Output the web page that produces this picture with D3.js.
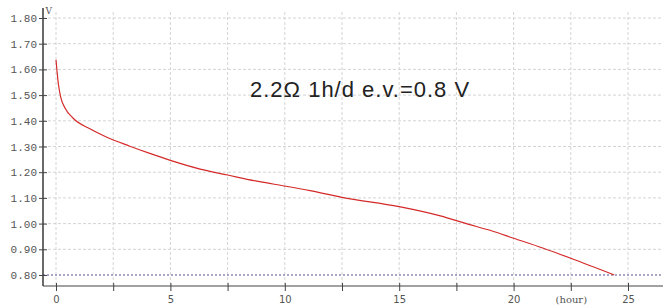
<!DOCTYPE html>
<html>
<head>
<meta charset="utf-8">
<script src="https://cdn.jsdelivr.net/npm/d3@7"></script>
<style>
  body { margin: 0; background: #fff; }
  svg { display: block; }
  .grid line { stroke: #d4d4d4; stroke-dasharray: 3 2; }
  .axis path, .axis line { stroke: #444; }
  .ytick text { font-family: "Liberation Mono", monospace; font-size: 11px; fill: #555; }
  .xtick text { font-family: "DejaVu Sans", sans-serif; font-size: 10px; fill: #555; }
</style>
</head>
<body>
<div id="chart"></div>
<script>
// discharge curve
const hours = [0, 0.1, 0.2, 0.4, 0.75, 1.5, 2.2, 3.2, 4.1, 5, 6.3, 7.5, 8.9, 10,
  11.1, 12.5, 15, 16.8, 18, 19, 20, 21.3, 22.5, 24.4];
const volts = [1.637, 1.546, 1.494, 1.449, 1.41, 1.368, 1.337, 1.302, 1.273, 1.246,
  1.212, 1.189, 1.163, 1.146, 1.128, 1.102, 1.066, 1.03, 0.998, 0.973, 0.943,
  0.904, 0.865, 0.80];
const yTicks = [0.8, 0.9, 1.0, 1.1, 1.2, 1.3, 1.4, 1.5, 1.6, 1.7, 1.8];
const xTicks = [0, 2.5, 5, 7.5, 10, 12.5, 15, 17.5, 20, 22.5, 25];
const xLabels = {0: '0', 5: '5', 10: '10', 15: '15', 20: '20', 22.5: '(hour)', 25: '25'};
const endVoltage = 0.8;
const title = '2.2\u03a9 1h/d e.v.=0.8 V';

const totalW = 663, totalH = 306;
const margin = {top: 18, right: 35, bottom: 31, left: 56};
const W = totalW - margin.left - margin.right;
const H = totalH - margin.top - margin.bottom;

const svg = d3.select('#chart').append('svg')
  .attr('width', totalW)
  .attr('height', totalH);
const g = svg.append('g')
  .attr('transform', `translate(${margin.left} ${margin.top})`);

const x = d3.scaleLinear().domain([0, 25]).range([0, W]);
const y = d3.scaleLinear().domain([0.8, 1.8]).range([H, 0]);

const axisX = -13;          // y axis sits a bit left of t=0
const axisY = H + 11;       // x axis sits a bit below 0.80
const rightEdge = totalW - margin.left;

// grid
const grid = g.append('g').classed('grid', true);
grid.selectAll('line.h')
  .data(yTicks.filter(d => d > endVoltage))
  .join('line')
  .attr('x1', axisX).attr('x2', rightEdge)
  .attr('y1', d => y(d)).attr('y2', d => y(d));
grid.selectAll('line.v')
  .data(xTicks)
  .join('line')
  .attr('x1', d => x(d)).attr('x2', d => x(d))
  .attr('y1', -6).attr('y2', axisY);

// end-of-discharge line
g.append('line')
  .attr('x1', axisX).attr('x2', rightEdge)
  .attr('y1', y(endVoltage)).attr('y2', y(endVoltage))
  .attr('stroke', '#8c8cb4')
  .attr('stroke-width', 1.6)
  .attr('stroke-dasharray', '2 2');

// y axis
const yAxis = d3.axisLeft(y)
  .tickValues(yTicks)
  .tickSize(0)
  .tickPadding(6)
  .tickFormat(d3.format('.2f'));
const ya = g.append('g')
  .attr('class', 'axis ytick')
  .attr('transform', `translate(${axisX} 0)`)
  .call(yAxis);
ya.select('.domain').remove();
ya.selectAll('.tick line').attr('x1', -4).attr('x2', 4).attr('stroke', '#555');
ya.append('line')
  .attr('y1', -10).attr('y2', axisY)
  .attr('stroke', '#666').attr('stroke-width', 1.6);
ya.append('text')
  .attr('x', 9).attr('y', -4)
  .attr('fill', '#444')
  .style('font-family', '"DejaVu Serif", serif')
  .style('font-size', '9px')
  .text('V');

// x axis
const xAxis = d3.axisBottom(x)
  .tickValues(xTicks)
  .tickSize(0)
  .tickPadding(10)
  .tickFormat(d => xLabels[d] || '');
const xa = g.append('g')
  .attr('class', 'axis xtick')
  .attr('transform', `translate(0 ${axisY})`)
  .call(xAxis);
xa.select('.domain').remove();
xa.selectAll('.tick line').attr('y1', -3).attr('y2', 5).attr('stroke', '#222');
xa.selectAll('.tick text')
  .filter(d => d === 22.5)
  .style('font-family', '"DejaVu Serif", serif')
  .style('font-size', '10px');
xa.append('line')
  .attr('x1', axisX).attr('x2', rightEdge)
  .attr('stroke', '#222').attr('stroke-width', 1.2);

// curve
const line = d3.line()
  .x((d, i) => x(hours[i]))
  .y(d => y(d))
  .curve(d3.curveMonotoneX);
g.append('path')
  .datum(volts)
  .attr('fill', 'none')
  .attr('stroke', '#d42a2a')
  .attr('stroke-width', 1.2)
  .attr('d', line);

// annotation
g.append('text')
  .attr('x', 194)
  .attr('y', 79)
  .attr('fill', '#222')
  .style('font-family', '"Liberation Sans", Arial, sans-serif')
  .style('font-size', '22px')
  .style('letter-spacing', '1px')
  .text(title);
</script>
</body>
</html>
